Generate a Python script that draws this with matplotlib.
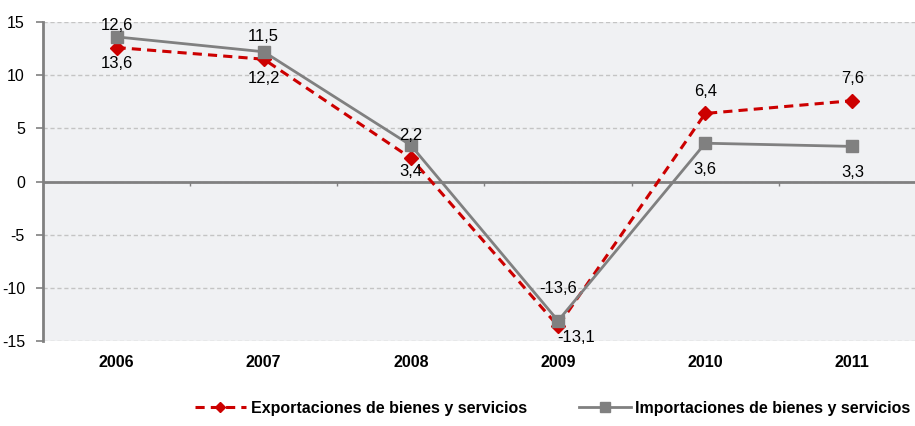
import numpy as np
import matplotlib.pyplot as plt

# data
years = ["2006", "2007", "2008", "2009", "2010", "2011"]
exportaciones = [12.6, 11.5, 2.2, -13.6, 6.4, 7.6]
importaciones = [13.6, 12.2, 3.4, -13.1, 3.6, 3.3]
label_exp = "Exportaciones de bienes y servicios"
label_imp = "Importaciones de bienes y servicios"

plt.rcParams['font.family'] = ['Liberation Sans', 'DejaVu Sans']
plt.rcParams['axes.unicode_minus'] = False

fig = plt.figure(figsize=(9.15, 4.26), dpi=100)
ax = fig.add_axes([43 / 915, 85 / 426, 883 / 915, 319 / 426])
ax.set_facecolor('#f0f1f3')

x = np.arange(len(years))
ax.plot(x, exportaciones, color='#cc0000', lw=2.2, ls=(0, (3, 2)), marker='D',
        markersize=7, label=label_exp, zorder=3)
ax.plot(x, importaciones, color='#808080', lw=2, marker='s',
        markersize=9, label=label_imp, zorder=4)

# value labels (comma decimals); the 2009 ones are nudged like in the original
exp_off = {3: (0, 27)}
imp_off = {3: (13, -12)}
for i, v in enumerate(exportaciones):
    ax.annotate(f"{v:.1f}".replace('.', ','), (x[i], v), xytext=exp_off.get(i, (0, 16)),
                textcoords='offset points', ha='center', va='center',
                fontsize=12, zorder=5)
for i, v in enumerate(importaciones):
    ax.annotate(f"{v:.1f}".replace('.', ','), (x[i], v), xytext=imp_off.get(i, (0, -19)),
                textcoords='offset points', ha='center', va='center',
                fontsize=12, zorder=5)

ax.set_xlim(-0.5, 5.5)
ax.set_ylim(-15, 15)
ax.set_yticks(range(-15, 16, 5))
ax.grid(axis='y', color='#c4c4c4', ls=(0, (3, 2)), lw=1)
ax.set_axisbelow(True)

ax.set_xticks(x)
ax.set_xticklabels(years, fontsize=11.5, fontweight='bold')
ax.tick_params(axis='x', length=0, pad=10)
ax.tick_params(axis='y', length=5, width=1.2, color='#808080', labelsize=11.5, pad=8)

for s in ['top', 'right', 'bottom']:
    ax.spines[s].set_visible(False)
ax.spines['left'].set_color('#808080')
ax.spines['left'].set_linewidth(2)

# zero axis with small ticks between categories
ax.axhline(0, color='#808080', lw=2, zorder=2)
ax.vlines(x[:-1] + 0.5, -0.45, 0, color='#808080', lw=1, zorder=2)

fig.legend(loc='lower center', bbox_to_anchor=(0.604, -0.01), ncol=2, frameon=False,
           prop={'size': 11.5, 'weight': 'bold'}, handlelength=3.2,
           handletextpad=0.3, columnspacing=3.3, markerscale=0.8)

fig.savefig('out.png', dpi=100)
